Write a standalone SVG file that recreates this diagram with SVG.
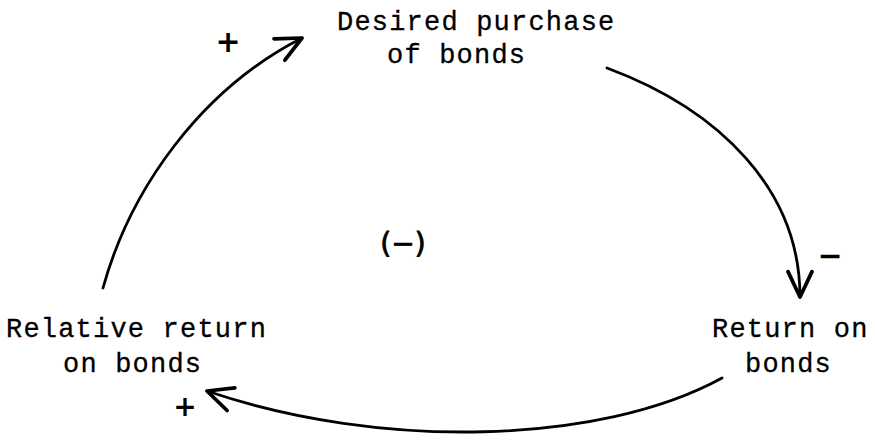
<svg xmlns="http://www.w3.org/2000/svg" width="875" height="441" viewBox="0 0 875 441">
<style>
.lbl{font-family:"Liberation Mono","Courier New",monospace;font-size:27px;letter-spacing:1.2px;fill:#000;stroke:#000;stroke-width:0.3}
.sign{font-family:"DejaVu Sans","Liberation Sans",sans-serif;font-weight:bold;fill:#000}
.edge{fill:none;stroke:#000;stroke-width:2.8;stroke-linecap:round}
</style>
<defs>
<marker id="ah" markerUnits="userSpaceOnUse" markerWidth="40" markerHeight="40" viewBox="-25 -15 30 30" refX="0" refY="0" orient="auto">
<path d="M-19,-9 L0,0 L-19,9" fill="none" stroke="#000" stroke-width="2.8" stroke-linecap="round" stroke-linejoin="round"/>
</marker>
</defs>
<rect width="875" height="441" fill="#fff"/>
<g id="connectors">
<path class="edge" d="M103,288 C130,190 200,90 302,38" marker-end="url(#ah)"/>
<path class="edge" d="M607,68 C720,110 800,190 800,297" marker-end="url(#ah)"/>
<path class="edge" d="M722,378 C600,445 380,450 207,391" stroke-width="3.4" marker-end="url(#ah)"/>
</g>
<g id="desired">
<text class="lbl" x="337" y="30">Desired purchase</text>
<text class="lbl" x="387" y="63">of bonds</text>
</g>
<g id="return">
<text class="lbl" x="712" y="337">Return on</text>
<text class="lbl" x="745" y="372">bonds</text>
</g>
<g id="relative">
<text class="lbl" x="6" y="337">Relative return</text>
<text class="lbl" x="63" y="372">on bonds</text>
</g>
<g id="signs">
<text class="sign" x="228" y="52" font-size="30" text-anchor="middle">+</text>
<text class="sign" x="830" y="266" font-size="30" text-anchor="middle">−</text>
<text class="sign" x="185" y="416" font-size="28" text-anchor="middle">+</text>
<text class="sign" x="403" y="253" font-size="28" text-anchor="middle" style="font-weight:normal;stroke:#000;stroke-width:0.8">(−)</text>
</g>
</svg>
